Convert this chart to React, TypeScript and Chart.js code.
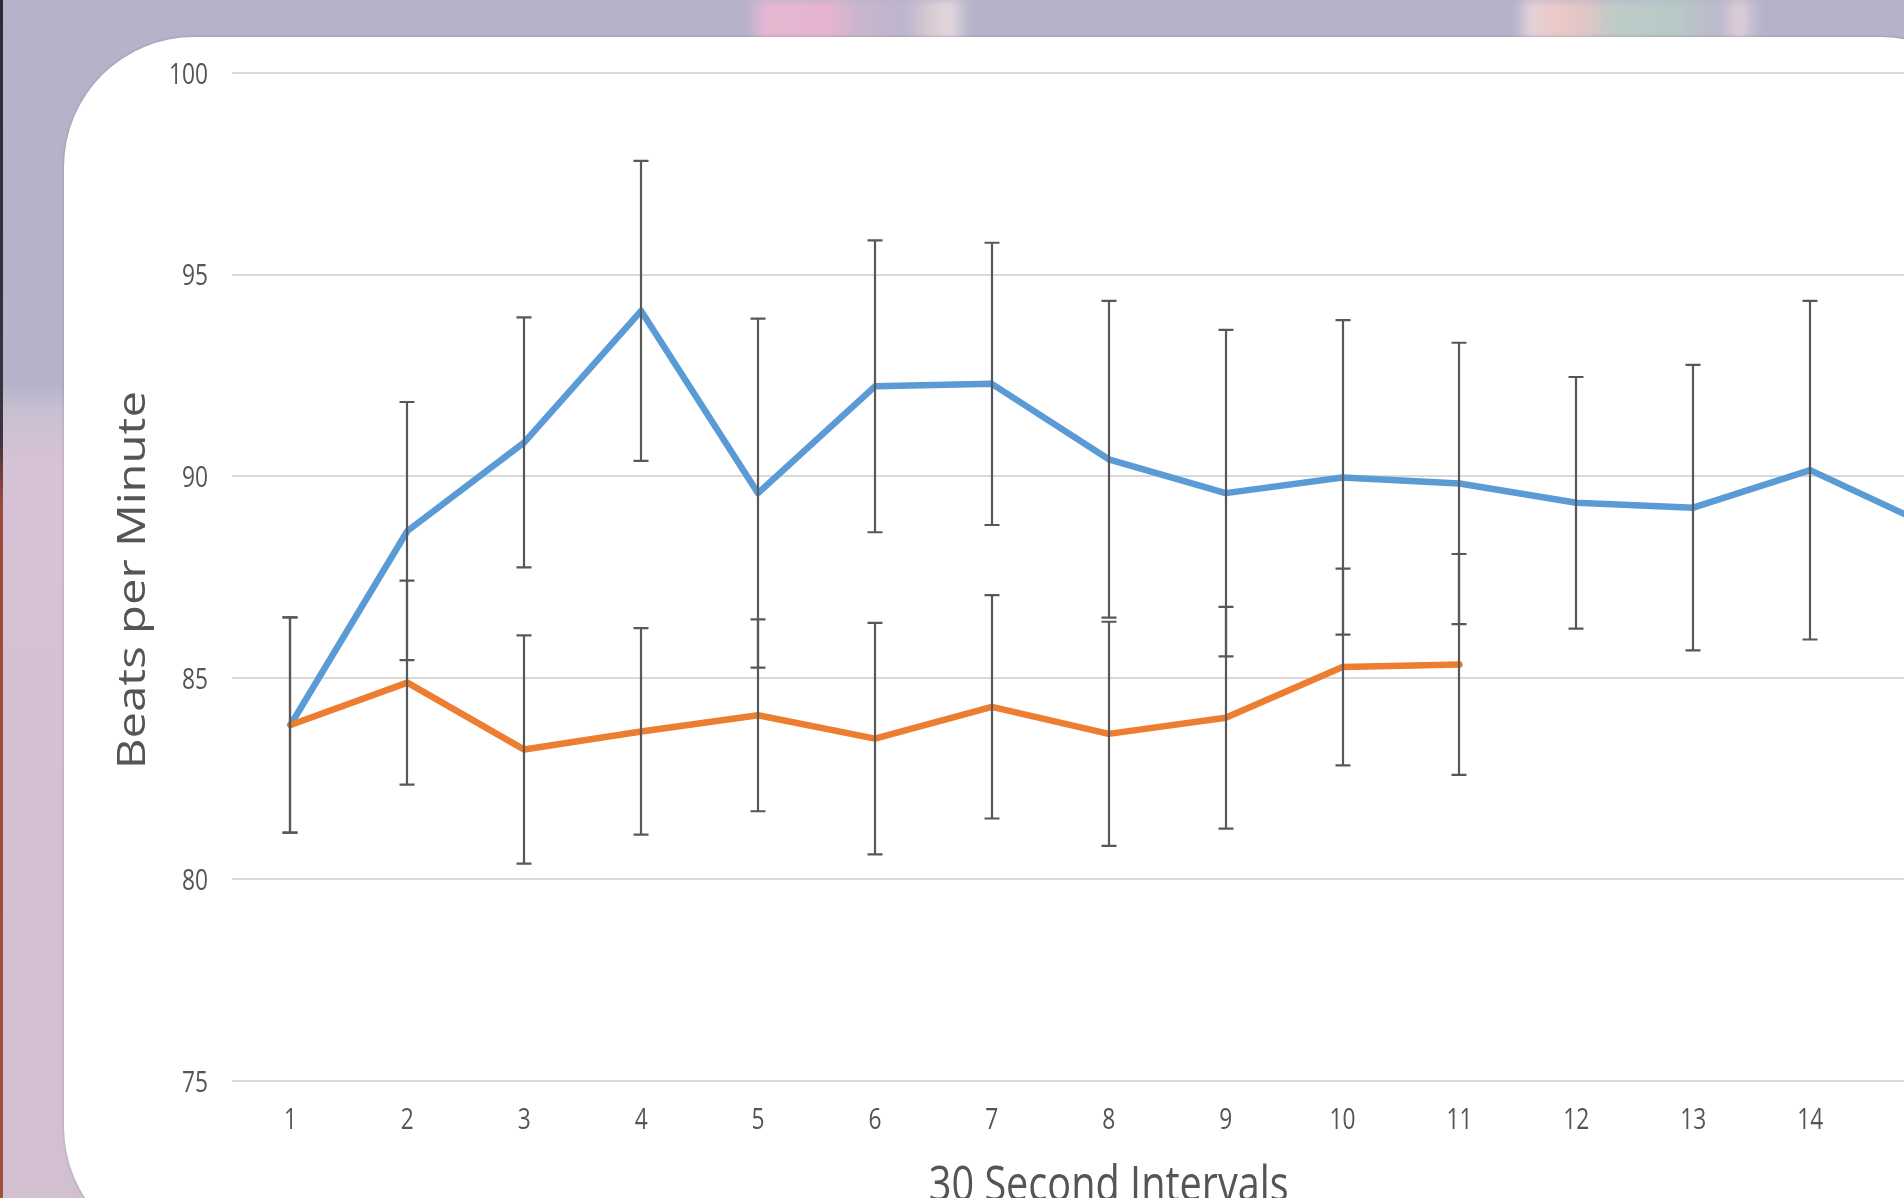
import React, { useEffect, useRef } from "react";
import { Chart, registerables } from "chart.js";

Chart.register(...registerables);

// 30-second interval numbers along the x axis
const intervals = ["1", "2", "3", "4", "5", "6", "7", "8", "9", "10", "11", "12", "13", "14", "15"];

// Mean heart rate (bpm) per interval, first group
const groupA = [83.83, 88.64, 90.84, 94.1, 89.58, 92.23, 92.29, 90.42, 89.58, 89.97, 89.82, 89.34, 89.22, 90.15, 88.8];
// Error (+/-) for the first group
const groupAErr = [2.67, 3.2, 3.1, 3.72, 4.33, 3.62, 3.5, 3.93, 4.05, 3.9, 3.49, 3.12, 3.54, 4.2, 3.6];

// Mean heart rate (bpm) per interval, second group (recorded for 11 intervals)
const groupB = [83.83, 84.88, 83.22, 83.67, 84.07, 83.49, 84.28, 83.61, 84.01, 85.27, 85.33, null, null, null, null];
// Error (+/-) for the second group
const groupBErr = [2.67, 2.53, 2.83, 2.56, 2.38, 2.87, 2.77, 2.78, 2.75, 2.44, 2.74, null, null, null, null];

// Value axis range and step
const yMin = 75;
const yMax = 100;
const yStep = 5;

// Axis titles
const xTitle = "30 Second Intervals";
const yTitle = "Beats per Minute";

const errorSets = [groupAErr, groupBErr];

const CANVAS_W = 2040;
const CANVAS_H = 1260;
const TEXT = "#555555";
const FAMILY = "'Open Sans', 'Noto Sans', sans-serif";
const WEIGHT = 500;

type TextBox = { size: number; sx: number; sy: number; asc: number };

// Finds the scale factors that give a text run the wanted width and cap height
function fitText(ctx: CanvasRenderingContext2D, sample: string, width: number, capSample: string, cap: number): TextBox {
  const size = 40;
  ctx.font = `${WEIGHT} ${size}px ${FAMILY}`;
  const w = ctx.measureText(sample).width;
  const asc = ctx.measureText(capSample).actualBoundingBoxAscent || size * 0.714;
  return { size, sx: width / w, sy: cap / asc, asc };
}

// Draws text whose cap band is centred on (x, cy), optionally turned to read upwards
function drawText(
  ctx: CanvasRenderingContext2D,
  text: string,
  x: number,
  cy: number,
  box: TextBox,
  align: CanvasTextAlign,
  upright = false
) {
  ctx.save();
  ctx.translate(x, cy);
  if (upright) ctx.rotate(-Math.PI / 2);
  ctx.scale(box.sx, box.sy);
  ctx.font = `${WEIGHT} ${box.size}px ${FAMILY}`;
  ctx.fillStyle = TEXT;
  ctx.textAlign = align;
  ctx.textBaseline = "alphabetic";
  ctx.fillText(text, 0, box.asc / 2);
  ctx.restore();
}

// Tick labels and axis titles, set in a tall narrow face
const axisTextPlugin = {
  id: "axisText",
  afterDraw(chart: any) {
    const { ctx, chartArea } = chart;
    const xs = chart.scales.x;
    const ys = chart.scales.y;
    const digit = fitText(ctx, "0", 13, "0", 21.7);

    ys.ticks.forEach((t: any) => {
      const label = t.label != null ? String(t.label) : String(t.value);
      drawText(ctx, label, 208, ys.getPixelForValue(t.value), digit, "right");
    });
    xs.ticks.forEach((t: any, i: number) => {
      const label = String(xs.getLabelForValue(t.value));
      drawText(ctx, label, xs.getPixelForTick(i), chartArea.bottom + 37, digit, "center");
    });

    const xBox = fitText(ctx, xTitle, 360, "I", 36);
    drawText(ctx, xTitle, (chartArea.left + chartArea.right) / 2, chartArea.bottom + 102, xBox, "center");

    const yBox = fitText(ctx, yTitle, 378, "B", 28);
    drawText(ctx, yTitle, 131, (chartArea.top + chartArea.bottom) / 2 + 3, yBox, "center", true);
  },
};

// Draws symmetric error bars with caps for every point of every visible dataset
const errorBarPlugin = {
  id: "errorBars",
  afterDatasetsDraw(chart: any) {
    const { ctx } = chart;
    const xs = chart.scales.x;
    const ys = chart.scales.y;
    ctx.save();
    ctx.strokeStyle = "#585858";
    ctx.lineWidth = 2.2;
    chart.data.datasets.forEach((ds: any, di: number) => {
      if (!chart.isDatasetVisible(di)) return;
      const errs = errorSets[di];
      ds.data.forEach((v: number | null, i: number) => {
        const e = errs[i];
        if (v == null || e == null) return;
        const px = Math.round(xs.getPixelForValue(i));
        const top = ys.getPixelForValue(v + e);
        const bot = ys.getPixelForValue(v - e);
        const half = 7.5;
        ctx.beginPath();
        ctx.moveTo(px, top);
        ctx.lineTo(px, bot);
        ctx.moveTo(px - half, top);
        ctx.lineTo(px + half, top);
        ctx.moveTo(px - half, bot);
        ctx.lineTo(px + half, bot);
        ctx.stroke();
      });
    });
    ctx.restore();
  },
};

function HeartRateChart() {
  const ref = useRef<HTMLCanvasElement | null>(null);

  useEffect(() => {
    if (!ref.current) return;
    const chart = new Chart(ref.current, {
      type: "line",
      data: {
        labels: intervals,
        datasets: [
          {
            label: "Group A",
            data: groupA,
            borderColor: "#5b9bd5",
            borderWidth: 6.5,
            pointRadius: 0,
            tension: 0,
            borderCapStyle: "round",
            borderJoinStyle: "round",
            order: 2,
          },
          {
            label: "Group B",
            data: groupB,
            borderColor: "#ed7d31",
            borderWidth: 6.5,
            pointRadius: 0,
            tension: 0,
            borderCapStyle: "round",
            borderJoinStyle: "round",
            spanGaps: false,
            order: 1,
          },
        ],
      },
      options: {
        responsive: false,
        animation: false,
        devicePixelRatio: 1,
        layout: { padding: { left: 0, top: 73, right: CANVAS_W - (232 + 15 * 116.9), bottom: 52 } },
        plugins: { legend: { display: false }, tooltip: { enabled: false } },
        scales: {
          x: {
            type: "category",
            offset: true,
            grid: { display: false, drawTicks: false },
            border: { display: false },
            ticks: { display: false, autoSkip: false },
            title: { display: false, text: xTitle },
            afterFit: (s: any) => {
              s.height = 127;
            },
          },
          y: {
            min: yMin,
            max: yMax,
            grid: { color: "#d9d9d9", lineWidth: 2, drawTicks: false },
            border: { display: false },
            ticks: { display: false, stepSize: yStep },
            title: { display: false, text: yTitle },
            afterFit: (s: any) => {
              s.width = 232;
            },
          },
        },
      },
      plugins: [errorBarPlugin, axisTextPlugin],
    });
    return () => chart.destroy();
  }, []);

  return (
    <canvas
      ref={ref}
      width={CANVAS_W}
      height={CANVAS_H}
      style={{ position: "absolute", left: 0, top: 0, width: CANVAS_W, height: CANVAS_H }}
    />
  );
}

export default function App() {
  return (
    <div
      style={{
        position: "fixed",
        left: 0,
        top: 0,
        width: 1904,
        height: 1198,
        overflow: "hidden",
        background:
          "linear-gradient(to bottom, #b5b3ca 0px, #b5b3ca 385px, #c9bfd1 410px, #d7c3d5 470px, #d3c1d3 700px, #d2c0d2 1198px)",
      }}
    >
      {/* thin dark frame edge on the far left */}
      <div
        style={{
          position: "absolute",
          left: 0,
          top: 0,
          width: 3,
          height: 1198,
          background: "linear-gradient(to bottom, #2e2b38 0px, #3a3340 440px, #9a4a3c 500px, #a24e3e 1198px)",
        }}
      />
      {/* soft colour streaks behind the card's top edge */}
      <div
        style={{
          position: "absolute",
          left: 745,
          top: 0,
          width: 230,
          height: 40,
          filter: "blur(4px)",
          background:
            "linear-gradient(to right, rgba(181,179,202,0) 0px, #e7b7d2 22px, #e6b3cf 85px, #c9b6ce 115px, #bcb5cc 160px, #d8cbd3 185px, #e4d9de 205px, rgba(181,179,202,0) 225px)",
        }}
      />
      <div
        style={{
          position: "absolute",
          left: 1515,
          top: 0,
          width: 250,
          height: 40,
          filter: "blur(4px)",
          background:
            "linear-gradient(to right, rgba(181,179,202,0) 0px, #e4d2d9 15px, #ebc9c8 40px, #e2c5c6 70px, #bccbc8 100px, #b7c9c6 160px, #bcb8cc 205px, #e2cfda 225px, rgba(181,179,202,0) 245px)",
        }}
      />
      {/* white card holding the chart */}
      <div
        style={{
          position: "absolute",
          left: 64,
          top: 37,
          width: 1946,
          height: 1220,
          background: "#ffffff",
          borderRadius: 130,
          boxShadow: "0 0 3px rgba(0,0,0,0.22)",
        }}
      />
      <HeartRateChart />
    </div>
  );
}
